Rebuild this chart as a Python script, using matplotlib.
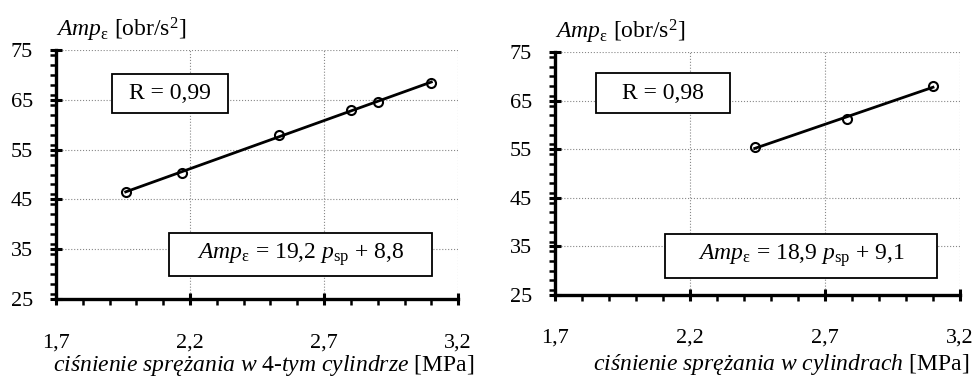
import matplotlib
matplotlib.use("Agg")
import matplotlib.pyplot as plt
from matplotlib.patches import Rectangle
from matplotlib.ticker import MultipleLocator
import numpy as np

plt.rcParams['font.family'] = ['Liberation Serif', 'DejaVu Serif']
plt.rcParams['mathtext.fontset'] = 'custom'
plt.rcParams['mathtext.rm'] = 'Liberation Serif'
plt.rcParams['mathtext.it'] = 'Liberation Serif:italic'
plt.rcParams['mathtext.bf'] = 'Liberation Serif:bold'

# data
p_4cyl = [1.96, 2.17, 2.53, 2.80, 2.90, 3.10]
amp_4cyl = [46.4, 50.4, 58.0, 63.0, 64.6, 68.3]
p_all = [2.44, 2.78, 3.10]
amp_all = [55.4, 61.2, 68.0]

x_ticks = [1.7, 2.2, 2.7, 3.2]
y_ticks = [25, 35, 45, 55, 65, 75]

y_label = r'$\mathit{Amp}_{\mathrm{\varepsilon}}$ [obr/s$^{2}$]'
panels = [
    dict(x=p_4cyl, y=amp_4cyl, r_text='R = 0,99',
         eq=r'$\mathit{Amp}_{\mathrm{\varepsilon}}$ = 19,2 $\mathit{p}_{\mathrm{sp}}$ + 8,8',
         xlabel=r'$\mathit{ciśnienie\ sprężania\ w\ 4\text{-}tym\ cylindrze}$ [MPa]',
         rect=[0.0574, 0.211, 0.412, 0.657], xlab_x=0.516, lpad=1,
         rbox=(0.139, 0.747, 0.289, 0.157), ebox=(0.281, 0.092, 0.654, 0.173)),
    dict(x=p_all, y=amp_all, r_text='R = 0,98',
         eq=r'$\mathit{Amp}_{\mathrm{\varepsilon}}$ = 18,9 $\mathit{p}_{\mathrm{sp}}$ + 9,1',
         xlabel=r'$\mathit{ciśnienie\ sprężania\ w\ cylindrach}$ [MPa]',
         rect=[0.5686, 0.2216, 0.415, 0.641], xlab_x=0.558, lpad=3,
         rbox=(0.101, 0.749, 0.331, 0.165), ebox=(0.272, 0.070, 0.671, 0.181)),
]

fig = plt.figure(figsize=(9.76, 3.79), dpi=100)

for pn in panels:
    ax = fig.add_axes(pn['rect'])
    x = np.array(pn['x'])
    y = np.array(pn['y'])
    k, b = np.polyfit(x, y, 1)
    xl = np.array([x.min(), x.max()])
    ax.plot(xl, k * xl + b, color='black', lw=2.0, zorder=3)
    ax.plot(x, y, 'o', mfc='none', mec='black', mew=1.5, ms=6.5, zorder=4)

    ax.set_xlim(1.7, 3.2)
    ax.set_ylim(25, 75)
    ax.set_xticks(x_ticks)
    ax.set_xticklabels([str(t).replace('.', ',') for t in x_ticks])
    ax.set_yticks(y_ticks)
    ax.xaxis.set_minor_locator(MultipleLocator(0.1))
    ax.yaxis.set_minor_locator(MultipleLocator(2))
    ax.grid(True, which='major', color='#888888', linestyle=':', lw=0.8)
    ax.set_axisbelow(True)

    for s in ['top', 'right']:
        ax.spines[s].set_visible(False)
    for s in ['left', 'bottom']:
        ax.spines[s].set_linewidth(2.4)
    ax.tick_params(which='major', direction='inout', length=9, width=2.2,
                   labelsize=16)
    ax.tick_params(which='minor', direction='out', length=4, width=1.8)
    ax.tick_params(axis='x', which='major', pad=20)
    ax.tick_params(axis='y', which='major', pad=12)

    ax.set_xlabel(pn['xlabel'], fontsize=17, labelpad=pn['lpad'])
    ax.xaxis.label.set_x(pn['xlab_x'])
    ax.text(0.0, 1.025, y_label, transform=ax.transAxes, fontsize=17,
            ha='left', va='bottom')

    for (bx, by, bw, bh), txt in [(pn['rbox'], pn['r_text']), (pn['ebox'], pn['eq'])]:
        ax.add_patch(Rectangle((bx, by), bw, bh, transform=ax.transAxes,
                               facecolor='white', edgecolor='black', lw=1.3,
                               zorder=5))
        ax.text(bx + bw / 2, by + bh / 2, txt, transform=ax.transAxes,
                ha='center', va='center', fontsize=17, zorder=6)

fig.savefig('out.png', dpi=100)
